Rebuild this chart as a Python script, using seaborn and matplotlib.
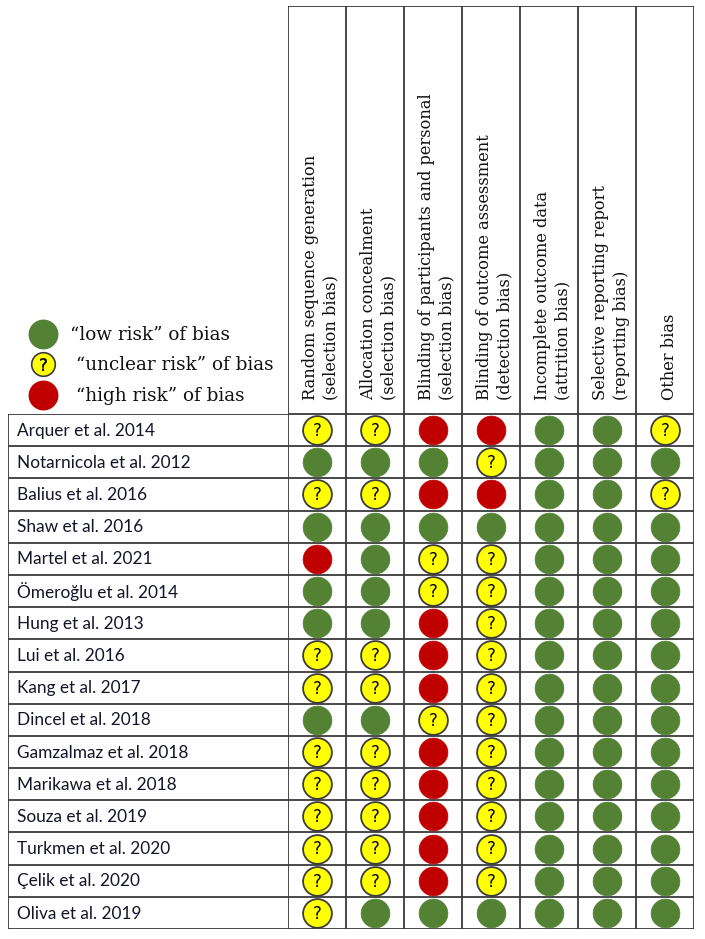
import matplotlib
matplotlib.use("Agg")
import matplotlib.pyplot as plt
from matplotlib.lines import Line2D
from matplotlib.legend_handler import HandlerTuple
import seaborn as sns
import pandas as pd

sns.set_theme(style="white")
plt.rcParams['font.family'] = ['DejaVu Sans']

# ---------------- data ----------------
studies = ["Arquer et al. 2014", "Notarnicola et al. 2012", "Balius et al. 2016",
           "Shaw et al. 2016", "Martel et al. 2021", "Ömeroğlu et al. 2014",
           "Hung et al. 2013", "Lui et al. 2016", "Kang et al. 2017",
           "Dincel et al. 2018", "Gamzalmaz et al. 2018", "Marikawa et al. 2018",
           "Souza et al. 2019", "Turkmen et al. 2020", "Çelik et al. 2020",
           "Oliva et al. 2019"]
domains = ["Random sequence generation\n(selection bias)",
           "Allocation concealment\n(selection bias)",
           "Blinding of participants and personal\n(selection bias)",
           "Blinding of outcome assessment\n(detection bias)",
           "Incomplete outcome data\n(attrition bias)",
           "Selective reporting report\n(reporting bias)",
           "Other bias"]
# L = low, U = unclear, H = high ; one string per domain (column), one char per study
random_seq   = list("ULULHLLUULUUUUUU")
alloc_conc   = list("ULULLLLUULUUUUUL")
blind_part   = list("HLHLUUHHHUHHHHHL")
blind_outc   = list("HUHLUUUUUUUUUUUL")
incomplete   = list("LLLLLLLLLLLLLLLL")
selective    = list("LLLLLLLLLLLLLLLL")
other_bias   = list("ULULLLLLLLLLLLLL")
columns = [random_seq, alloc_conc, blind_part, blind_outc, incomplete, selective, other_bias]
legend_labels = ["“low risk” of bias", " “unclear risk” of bias", " “high risk” of bias"]

rows = []
for ci, col in enumerate(columns):
    for ri, v in enumerate(col):
        rows.append({"col": ci, "row": ri, "risk": v})
df = pd.DataFrame(rows)

GREEN, YELLOW, RED, EDGE, LINE = "#548235", "#FFFF00", "#C00000", "#3c3c3c", "#3a3a3a"

# ---------------- layout ----------------
W, H = 705, 939
fig = plt.figure(figsize=(W / 100, H / 100), dpi=100)

def box(x0, y0, x1, y1):
    return [x0 / W, 1 - y1 / H, (x1 - x0) / W, (y1 - y0) / H]

n_rows = len(studies)
n_cols = len(domains)
row_h = (929 - 414) / n_rows
hdr = (414 - 6) / row_h

ax = fig.add_axes(box(288, 6, 694, 929))
ax.set_xlim(-0.5, n_cols - 0.5)
ax.set_ylim(n_rows - 0.5, -0.5 - hdr)
ax.axis("off")

for i in range(n_cols + 1):
    ax.plot([i - 0.5, i - 0.5], [-0.5 - hdr, n_rows - 0.5], color=LINE, lw=1.3,
            solid_capstyle="projecting")
ax.plot([-0.5, n_cols - 0.5], [-0.5 - hdr, -0.5 - hdr], color=LINE, lw=1.3)
for j in range(n_rows + 1):
    ax.plot([-0.5, n_cols - 0.5], [j - 0.5, j - 0.5], color=LINE, lw=1.3)

msize = 430
sns.scatterplot(data=df[df.risk == "L"], x="col", y="row", color=GREEN, s=msize,
                edgecolor=GREEN, linewidth=0.5, ax=ax, legend=False, zorder=3)
sns.scatterplot(data=df[df.risk == "H"], x="col", y="row", color=RED, s=msize,
                edgecolor=RED, linewidth=0.5, ax=ax, legend=False, zorder=3)
unc = df[df.risk == "U"]
sns.scatterplot(data=unc, x="col", y="row", color=YELLOW, s=msize,
                edgecolor=EDGE, linewidth=1.3, ax=ax, legend=False, zorder=3)
for _, r in unc.iterrows():
    ax.text(r["col"], r["row"] + 0.03, "?", ha="center", va="center",
            fontsize=12, color="black", zorder=4, family="DejaVu Sans")
ax.set_xlabel("")
ax.set_ylabel("")

for ci, name in enumerate(domains):
    ax.text(ci + 0.07, -0.93, name, rotation=90, ha="center", va="bottom",
            multialignment="left", fontsize=11.7, family="DejaVu Serif",
            color="#111111", linespacing=1.25)

# ---------------- study name table ----------------
axn = fig.add_axes(box(8, 414, 288, 929))
axn.set_xlim(0, 1)
axn.set_ylim(n_rows - 0.5, -0.5)
axn.axis("off")
for j in range(n_rows + 1):
    axn.plot([0, 1], [j - 0.5, j - 0.5], color=LINE, lw=1.3)
axn.plot([0, 0], [-0.5, n_rows - 0.5], color=LINE, lw=1.3)
for ri, s in enumerate(studies):
    axn.text(0.032, ri + 0.02, s, ha="left", va="center", fontsize=12.4,
             family="Lato", color="#141428")

# ---------------- legend ----------------
h_low = Line2D([], [], ls="", marker="o", ms=20.5, mfc=GREEN, mec=GREEN)
h_unc = (Line2D([], [], ls="", marker="o", ms=17, mfc=YELLOW, mec=EDGE, mew=1.2),
         Line2D([], [], ls="", marker="$?$", ms=9, mfc="black", mec="black", mew=0.3))
h_high = Line2D([], [], ls="", marker="o", ms=20.5, mfc=RED, mec=RED)
fig.legend([h_low, h_unc, h_high], legend_labels,
           handler_map={tuple: HandlerTuple(ndivide=1)},
           loc="upper left", bbox_to_anchor=(31 / W, 1 - 326 / H),
           frameon=False, borderpad=0, borderaxespad=0,
           handlelength=1.3, handletextpad=0.85, labelspacing=0.68,
           prop={"family": "DejaVu Serif", "size": 13.2}, labelcolor="#111111")

fig.savefig("out.png", dpi=100)
